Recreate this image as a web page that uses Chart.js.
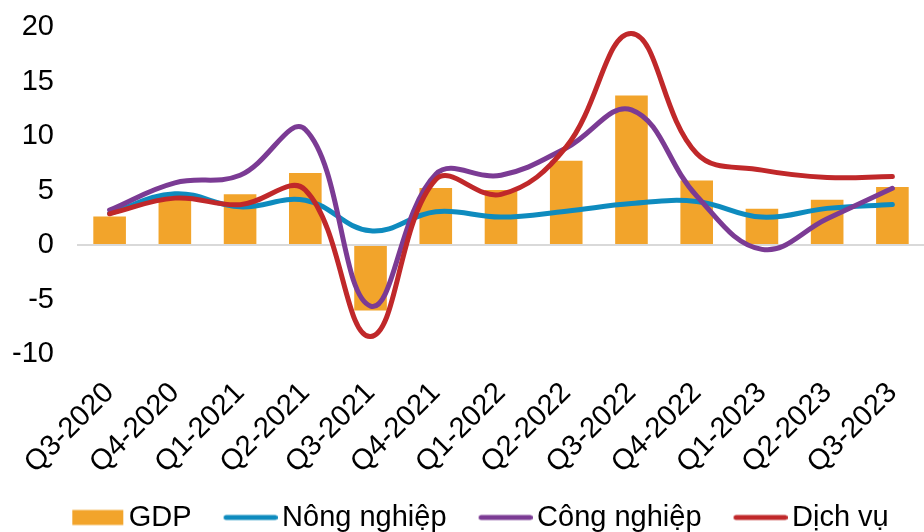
<!DOCTYPE html>
<html>
<head>
<meta charset="utf-8">
<script src="https://cdn.jsdelivr.net/npm/chart.js@4/dist/chart.umd.min.js"></script>
<style>
  html, body { margin: 0; padding: 0; background: #fff; overflow: hidden; }
</style>
</head>
<body>
<canvas id="grafico" width="931" height="532" style="width:931px;height:532px"></canvas>
<script>
// datos (% tang truong so voi cung ky)
const quys = ['Q3-2020', 'Q4-2020', 'Q1-2021', 'Q2-2021', 'Q3-2021', 'Q4-2021', 'Q1-2022',
              'Q2-2022', 'Q3-2022', 'Q4-2022', 'Q1-2023', 'Q2-2023', 'Q3-2023'];
const gdp = [2.62, 4.48, 4.65, 6.6, -6.02, 5.22, 5.05, 7.72, 13.71, 5.92, 3.32, 4.14, 5.33];
const nongNghiep = [2.9, 4.7, 3.5, 4.1, 1.3, 3.05, 2.56, 3.1, 3.8, 4.0, 2.56, 3.36, 3.72];
const congNghiep = [3.2, 5.7, 6.4, 10.6, -5.6, 6.5, 6.4, 8.9, 12.4, 4.5, -0.4, 2.4, 5.2];
const dichVu = [2.86, 4.3, 3.7, 5.05, -8.4, 6.0, 4.65, 9.0, 19.4, 8.4, 6.87, 6.2, 6.28];
const yTicks = [-10, -5, 0, 5, 10, 15, 20];

const fuente = '"Liberation Sans", Arial, sans-serif';
const colores = { gdp: '#F2A42B', nong: '#0E8BBE', cong: '#7B3B94', dich: '#C0282A' };

function serie(label, data, color, orden) {
  return {
    type: 'line', label: label, data: data, borderColor: color, backgroundColor: color,
    borderWidth: 5, pointRadius: 0, tension: 0.4, order: orden,
    borderCapStyle: 'round', borderJoinStyle: 'round'
  };
}

// simbolos de la leyenda (para dejarlos pegados al texto)
function simbolo(color, esBarra) {
  const c = document.createElement('canvas');
  c.width = 64;
  c.height = 20;
  const g = c.getContext('2d');
  if (esBarra) {
    g.fillStyle = color;
    g.fillRect(12, 2.5, 51, 15);
  } else {
    g.strokeStyle = color;
    g.lineWidth = 5;
    g.lineCap = 'round';
    g.beginPath();
    g.moveTo(12.5, 10);
    g.lineTo(61.5, 10);
    g.stroke();
  }
  return c;
}

// mover la leyenda un poco a la derecha
const moverLeyenda = {
  id: 'moverLeyenda',
  afterLayout: function (chart) {
    if (chart.legend) {
      chart.legend.left += 14;
      chart.legend.right += 14;
    }
  }
};

new Chart(document.getElementById('grafico'), {
  type: 'bar',
  data: {
    labels: quys,
    datasets: [
      { type: 'bar', label: 'GDP', data: gdp, backgroundColor: colores.gdp, order: 4,
        barPercentage: 0.5, categoryPercentage: 1 },
      serie('Nông nghiệp', nongNghiep, colores.nong, 3),
      serie('Công nghiệp', congNghiep, colores.cong, 2),
      serie('Dịch vụ', dichVu, colores.dich, 1)
    ]
  },
  plugins: [moverLeyenda],
  options: {
    responsive: false,
    animation: false,
    devicePixelRatio: 1,
    layout: { padding: { top: 27, left: 0, right: 0, bottom: -10 } },
    plugins: {
      tooltip: { enabled: false },
      legend: {
        position: 'bottom',
        labels: {
          usePointStyle: true,
          pointStyleWidth: 44,
          boxHeight: 15,
          padding: 32,
          color: '#000',
          font: { family: fuente, size: 29 },
          generateLabels: function (chart) {
            return chart.data.datasets.map(function (ds, i) {
              const esBarra = ds.type === 'bar';
              const color = esBarra ? ds.backgroundColor : ds.borderColor;
              return {
                text: ds.label,
                fillStyle: color,
                strokeStyle: color,
                lineWidth: 0,
                pointStyle: simbolo(color, esBarra),
                fontColor: '#000',
                hidden: false,
                datasetIndex: i
              };
            });
          }
        }
      }
    },
    scales: {
      x: {
        grid: { display: false },
        border: { display: false },
        afterFit: function (scale) { scale.height = 117; },
        ticks: {
          autoSkip: false, minRotation: 45, maxRotation: 45, padding: 14,
          color: '#000', font: { family: fuente, size: 29 }
        }
      },
      y: {
        min: -10, max: 20,
        afterFit: function (scale) {
          scale.width = 77;
          scale.paddingTop = 0;
          scale.paddingBottom = 0;
        },
        afterBuildTicks: function (scale) {
          scale.ticks = yTicks.map(function (v) { return { value: v }; });
        },
        border: { display: false },
        grid: {
          drawTicks: false,
          lineWidth: 2,
          color: function (c) { return c.tick && c.tick.value === 0 ? '#D9D9D9' : 'rgba(0,0,0,0)'; }
        },
        ticks: { padding: 23, color: '#000', font: { family: fuente, size: 29 } }
      }
    }
  }
});
</script>
</body>
</html>
